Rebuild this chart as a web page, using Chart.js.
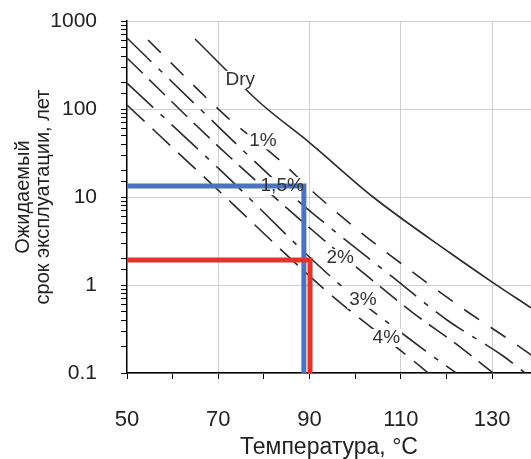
<!DOCTYPE html>
<html>
<head>
<meta charset="utf-8">
<script src="https://cdn.jsdelivr.net/npm/chart.js@4.4.0/dist/chart.umd.min.js"></script>
<style>
  html, body { margin: 0; padding: 0; background: #fff; overflow: hidden; }
</style>
</head>
<body>
<canvas id="lifeChart" width="531" height="459"></canvas>
<script>
// curves: temperature (°C) -> expected life (years)
const dryT = [64.9, 79.2, 90.1, 103.9, 120.8, 130.0, 138.5];
const dryLife = [624, 117, 41, 10, 2.31, 1.08, 0.55];

const w1T = [54.6, 71.9, 82.9, 90.8, 100.0, 107.6, 122.5, 137.9, 138.5];
const w1Life = [608, 81, 27.7, 11.4, 4.45, 2.19, 0.59, 0.169, 0.16];

const w15T = [50, 66.0, 84.0, 93.0, 107.6, 120.1, 132.4, 137.2];
const w15Life = [641, 100, 13.0, 5.2, 1.30, 0.40, 0.156, 0.1];

const w2T = [50, 70.4, 90.8, 101.5, 112.5, 123.0, 130.2];
const w2Life = [380, 36, 4.11, 1.41, 0.49, 0.197, 0.1];

const w3T = [50, 70.4, 96.0, 115.3, 122.1];
const w3Life = [197, 20.3, 1.08, 0.18, 0.1];

const w4T = [50, 70.4, 93.4, 112.5, 116.0];
const w4Life = [111, 11.4, 0.88, 0.141, 0.1];

// blue and red read-off lines
const blueT = [50, 88.75, 88.75];
const blueLife = [13.3, 13.3, 0.1];
const redT = [50, 90.1, 90.1];
const redLife = [1.92, 1.92, 0.1];

// curve labels
const curveLabels = ["Dry", "1%", "1,5%", "2%", "3%", "4%"];
const labelT = [74.8, 79.8, 84.0, 96.7, 101.7, 106.8];
const labelLife = [214, 44, 13.3, 2.03, 0.68, 0.25];

// axis ticks
const xTickLabels = [50, 70, 90, 110, 130];
const yTickLabels = [0.1, 1, 10, 100, 1000];

function toPoints(xs, ys) {
  return xs.map((x, i) => ({ x: x, y: ys[i] }));
}

function isLabeledY(v) {
  return yTickLabels.some((t) => Math.abs(t - v) < t * 1e-6);
}

const FONT = '"Liberation Sans", Arial, sans-serif';
Chart.defaults.font.family = FONT;
Chart.defaults.color = "#222";

function curve(xs, ys, dash) {
  return {
    data: toPoints(xs, ys),
    borderColor: "#2b2b2b",
    borderWidth: 1.6,
    borderDash: dash,
    pointRadius: 0,
    cubicInterpolationMode: "monotone",
    clip: 0,
  };
}

function marker(xs, ys, color) {
  return {
    data: toPoints(xs, ys),
    borderColor: color,
    borderWidth: 5,
    borderJoinStyle: "miter",
    pointRadius: 0,
    tension: 0,
    clip: 8,
  };
}

const curveLabelPlugin = {
  id: "curveLabels",
  beforeDatasetDraw(chart, args) {
    // white patches behind labels: over the black curves, under blue/red
    if (args.index !== 1) return;
    const ctx = chart.ctx;
    const xs = chart.scales.x;
    const ys = chart.scales.y;
    ctx.save();
    ctx.font = "19px " + FONT;
    ctx.fillStyle = "#fff";
    curveLabels.forEach((txt, i) => {
      const px = xs.getPixelForValue(labelT[i]);
      const py = ys.getPixelForValue(labelLife[i]);
      const w = ctx.measureText(txt).width;
      ctx.fillRect(px - w / 2 - 2, py - 9, w + 4, 18);
    });
    ctx.restore();
  },
  afterDatasetsDraw(chart) {
    const ctx = chart.ctx;
    const xs = chart.scales.x;
    const ys = chart.scales.y;
    ctx.save();
    ctx.font = "19px " + FONT;
    ctx.fillStyle = "#333";
    ctx.textAlign = "center";
    ctx.textBaseline = "middle";
    curveLabels.forEach((txt, i) => {
      ctx.fillText(txt, xs.getPixelForValue(labelT[i]), ys.getPixelForValue(labelLife[i]));
    });
    ctx.restore();
  },
};

new Chart(document.getElementById("lifeChart"), {
  type: "line",
  data: {
    datasets: [
      marker(redT, redLife, "#e5332a"),
      marker(blueT, blueLife, "#4a74c0"),
      curve(dryT, dryLife, []),
      curve(w1T, w1Life, [18, 14]),
      curve(w15T, w15Life, [34, 10, 5, 10]),
      curve(w2T, w2Life, [22, 9]),
      curve(w3T, w3Life, [36, 10, 5, 10]),
      curve(w4T, w4Life, [24, 11]),
    ],
  },
  options: {
    responsive: false,
    animation: false,
    layout: { autoPadding: false, padding: { top: 21, right: 0, bottom: 0, left: 0 } },
    plugins: {
      legend: { display: false },
      tooltip: { enabled: false },
    },
    scales: {
      x: {
        type: "linear",
        min: 50,
        max: 138.5,
        afterFit(scale) {
          scale.height = 86;
          scale.paddingLeft = 0;
          scale.paddingRight = 0;
        },
        border: { color: "#000", width: 1.5 },
        grid: {
          color: (c) => (c.tick && xTickLabels.includes(c.tick.value) && c.tick.value !== 50 ? "#cfcfcf" : "rgba(0,0,0,0)"),
          tickColor: "#000",
          tickLength: 6,
          lineWidth: 1,
        },
        ticks: {
          stepSize: 10,
          includeBounds: false,
          autoSkip: false,
          maxRotation: 0,
          padding: 28,
          color: "#222",
          font: { size: 22 },
          callback: (v) => (xTickLabels.includes(v) ? String(v) : ""),
        },
        title: {
          display: true,
          text: "Температура, °C",
          color: "#222",
          font: { size: 23, lineHeight: 1 },
          padding: { top: 0, bottom: 0 },
        },
      },
      y: {
        type: "logarithmic",
        min: 0.1,
        max: 1000,
        afterFit(scale) {
          scale.width = 127;
          scale.paddingTop = 0;
          scale.paddingBottom = 0;
        },
        border: { color: "#000", width: 1.5 },
        grid: {
          color: (c) => (c.tick && isLabeledY(c.tick.value) ? "#cfcfcf" : "rgba(0,0,0,0)"),
          tickColor: "#000",
          tickLength: 6,
          lineWidth: 1,
        },
        ticks: {
          autoSkip: false,
          padding: 24,
          color: "#222",
          font: { size: 21 },
          callback: (v) => (isLabeledY(v) ? (v < 1 ? v.toFixed(1) : v.toFixed(0)) : ""),
        },
        title: {
          display: true,
          text: ["Ожидаемый", "срок эксплуатации, лет"],
          color: "#222",
          font: { size: 20, lineHeight: 1 },
          padding: { top: 13, bottom: 0 },
        },
      },
    },
  },
  plugins: [curveLabelPlugin],
});
</script>
</body>
</html>
